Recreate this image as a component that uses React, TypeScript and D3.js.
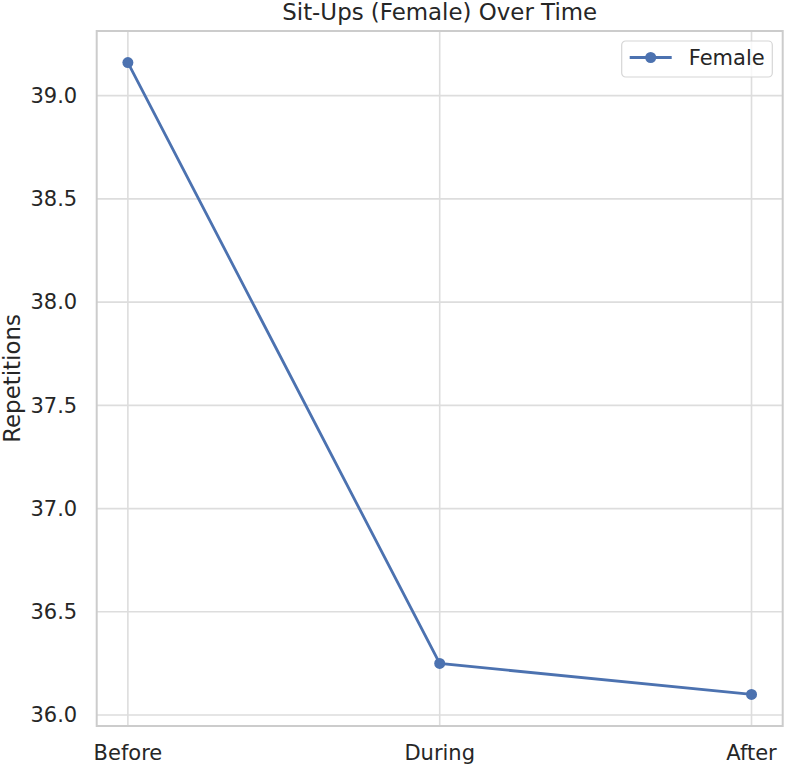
import React from 'react';
import * as d3 from 'd3';

const phases = ['Before', 'During', 'After'];
const femaleReps = [39.16, 36.25, 36.1];
const yTicks = [36.0, 36.5, 37.0, 37.5, 38.0, 38.5, 39.0];

const W = 786;
const H = 766;
const margin = { top: 31, right: 3.3, bottom: 40, left: 96.7 };
const blue = '#4c72b0';
const textColor = '#262626';
const font = 'DejaVu Sans, sans-serif';
const tickSize = 21;
const labelSize = 22.9;

export default function App() {
  const innerW = W - margin.left - margin.right;
  const innerH = H - margin.top - margin.bottom;

  // categorical x with matplotlib-like 5% padding
  const x = d3.scaleLinear().domain([-0.1, phases.length - 1 + 0.1]).range([0, innerW]);
  const [lo, hi] = d3.extent(femaleReps) as [number, number];
  const pad = (hi - lo) * 0.05;
  const y = d3.scaleLinear().domain([lo - pad, hi + pad]).range([innerH, 0]);

  const line = d3.line<number>()
    .x((_, i) => x(i))
    .y(d => y(d));

  return (
    <svg width={W} height={H} style={{ position: 'absolute', left: 0, top: 0, background: '#fff' }}>
      <g transform={`translate(${margin.left},${margin.top})`}>
        {/* grid */}
        {yTicks.map(t => (
          <line key={'gy' + t} x1={0} x2={innerW} y1={y(t)} y2={y(t)} stroke="#dddddd" strokeWidth={1.6} />
        ))}
        {phases.map((p, i) => (
          <line key={'gx' + p} x1={x(i)} x2={x(i)} y1={0} y2={innerH} stroke="#dddddd" strokeWidth={1.6} />
        ))}
        {/* frame */}
        <rect x={0} y={0} width={innerW} height={innerH} fill="none" stroke="#cccccc" strokeWidth={2} />

        {/* tick labels */}
        {yTicks.map(t => (
          <text key={'ty' + t} x={-19.5} y={y(t)} dy="0.35em" textAnchor="end"
            fontFamily={font} fontSize={tickSize} fill={textColor}>{t.toFixed(1)}</text>
        ))}
        {phases.map((p, i) => (
          <text key={'tx' + p} x={x(i)} y={innerH + 34} textAnchor="middle"
            fontFamily={font} fontSize={tickSize} fill={textColor}>{p}</text>
        ))}

        {/* series */}
        <path d={line(femaleReps) || ''} fill="none" stroke={blue} strokeWidth={2.8} />
        {femaleReps.map((v, i) => (
          <circle key={'pt' + i} cx={x(i)} cy={y(v)} r={5.5} fill={blue} />
        ))}

        {/* legend */}
        <g transform={`translate(${innerW - 161},10)`}>
          <rect x={0} y={0} width={150.6} height={36} rx={4} fill="#fff" fillOpacity={0.8} stroke="#d6d6d6" strokeWidth={1.2} />
          <line x1={8} x2={50} y1={16.5} y2={16.5} stroke={blue} strokeWidth={2.8} />
          <circle cx={29} cy={16.5} r={5.5} fill={blue} />
          <text x={67} y={16.5} dy="0.35em" fontFamily={font} fontSize={tickSize} fill={textColor}>Female</text>
        </g>
      </g>

      {/* title */}
      <text x={margin.left + innerW / 2} y={20} textAnchor="middle" fontFamily={font} fontSize={labelSize} fill={textColor}>
        Sit-Ups (Female) Over Time
      </text>
      {/* y label */}
      <text transform={`translate(20,${margin.top + innerH / 2}) rotate(-90)`} textAnchor="middle"
        fontFamily={font} fontSize={labelSize} fill={textColor}>Repetitions</text>
    </svg>
  );
}
